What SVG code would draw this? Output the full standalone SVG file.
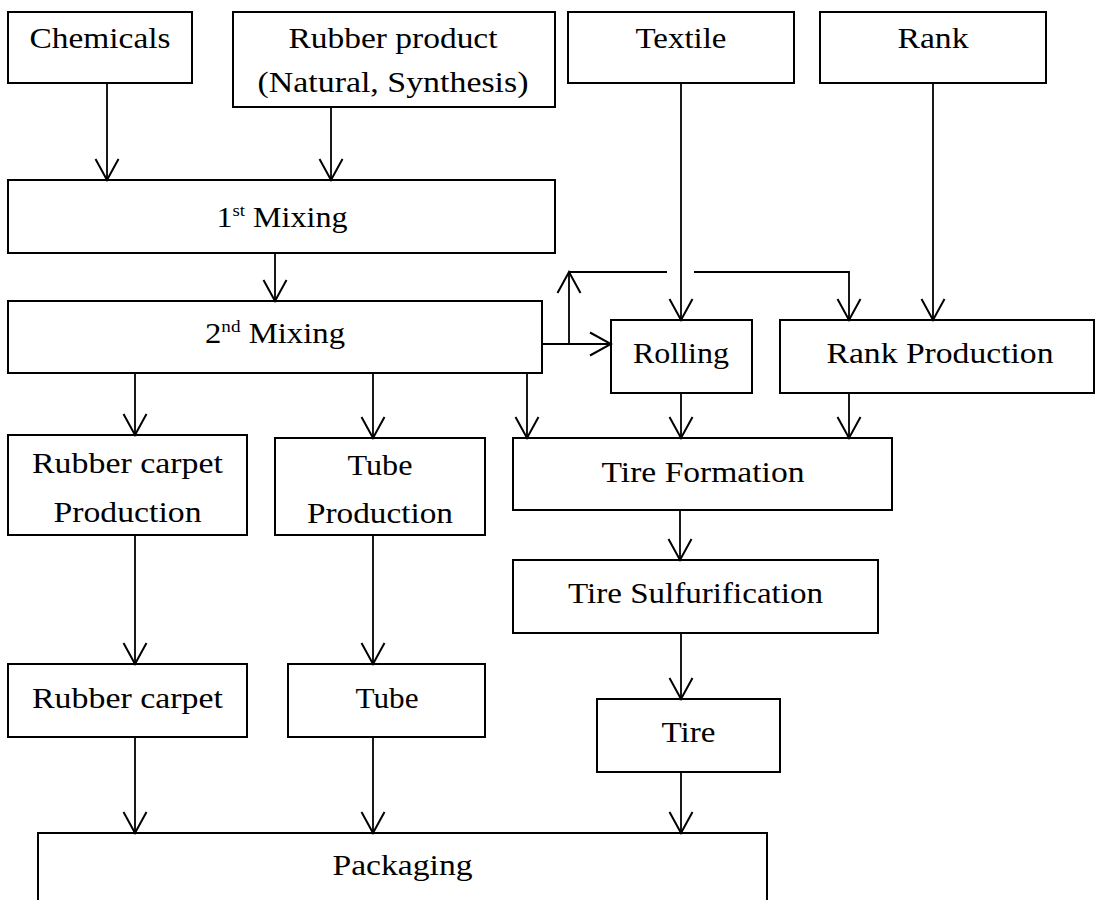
<svg xmlns="http://www.w3.org/2000/svg" width="1096" height="900" viewBox="0 0 1096 900">
  <style>
    .box { fill: #ffffff; stroke: #000000; stroke-width: 2; }
    .lbl { font-family: "Liberation Serif", "Times New Roman", serif; font-size: 29px; fill: #000000; text-anchor: middle; }
    .sup { font-size: 17px; }
    .wire { fill: none; stroke: #000000; stroke-width: 1.8; }
  </style>
  <defs>
    <marker id="vhead" viewBox="0 0 24 26" refX="22" refY="13" markerWidth="24" markerHeight="26" markerUnits="userSpaceOnUse" orient="auto">
      <path d="M1,1.5 L22,13 L1,24.5" fill="none" stroke="#000000" stroke-width="2"/>
    </marker>
  </defs>
  <rect width="1096" height="900" fill="#ffffff"/>

  <!-- raw materials -->
  <g id="chemicals">
    <rect class="box" x="8" y="12" width="184" height="71"/>
    <text class="lbl" x="100" y="48" textLength="141" lengthAdjust="spacingAndGlyphs">Chemicals</text>
  </g>
  <g id="rubber-product">
    <rect class="box" x="233" y="12" width="322" height="95"/>
    <text class="lbl" x="393" y="48" textLength="209" lengthAdjust="spacingAndGlyphs">Rubber product</text>
    <text class="lbl" x="393" y="92" textLength="271" lengthAdjust="spacingAndGlyphs">(Natural, Synthesis)</text>
  </g>
  <g id="textile">
    <rect class="box" x="568" y="12" width="226" height="71"/>
    <text class="lbl" x="681" y="48" textLength="91" lengthAdjust="spacingAndGlyphs">Textile</text>
  </g>
  <g id="rank">
    <rect class="box" x="820" y="12" width="226" height="71"/>
    <text class="lbl" x="933" y="48" textLength="71" lengthAdjust="spacingAndGlyphs">Rank</text>
  </g>

  <!-- mixing stages -->
  <g id="mixing-1">
    <rect class="box" x="8" y="180" width="547" height="73"/>
    <text class="lbl" x="282" y="227" textLength="131" lengthAdjust="spacingAndGlyphs">1<tspan class="sup" dy="-11">st</tspan><tspan dy="11"> Mixing</tspan></text>
  </g>
  <g id="mixing-2">
    <rect class="box" x="8" y="301" width="534" height="72"/>
    <text class="lbl" x="275" y="343" textLength="140" lengthAdjust="spacingAndGlyphs">2<tspan class="sup" dy="-11">nd</tspan><tspan dy="11"> Mixing</tspan></text>
  </g>

  <!-- component production -->
  <g id="rolling">
    <rect class="box" x="611" y="320" width="141" height="73"/>
    <text class="lbl" x="681" y="363" textLength="96" lengthAdjust="spacingAndGlyphs">Rolling</text>
  </g>
  <g id="rank-production">
    <rect class="box" x="780" y="320" width="314" height="73"/>
    <text class="lbl" x="940" y="363" textLength="227" lengthAdjust="spacingAndGlyphs">Rank Production</text>
  </g>
  <g id="carpet-production">
    <rect class="box" x="8" y="435" width="239" height="100"/>
    <text class="lbl" x="127.5" y="473" textLength="191" lengthAdjust="spacingAndGlyphs">Rubber carpet</text>
    <text class="lbl" x="127.5" y="522" textLength="148" lengthAdjust="spacingAndGlyphs">Production</text>
  </g>
  <g id="tube-production">
    <rect class="box" x="275" y="438" width="210" height="97"/>
    <text class="lbl" x="380" y="475" textLength="65" lengthAdjust="spacingAndGlyphs">Tube</text>
    <text class="lbl" x="380" y="523" textLength="146" lengthAdjust="spacingAndGlyphs">Production</text>
  </g>
  <g id="tire-formation">
    <rect class="box" x="513" y="438" width="379" height="72"/>
    <text class="lbl" x="703" y="482" textLength="203" lengthAdjust="spacingAndGlyphs">Tire Formation</text>
  </g>
  <g id="tire-sulfurification">
    <rect class="box" x="513" y="560" width="365" height="73"/>
    <text class="lbl" x="695.5" y="603" textLength="255" lengthAdjust="spacingAndGlyphs">Tire Sulfurification</text>
  </g>

  <!-- finished goods -->
  <g id="rubber-carpet">
    <rect class="box" x="8" y="664" width="239" height="73"/>
    <text class="lbl" x="127.5" y="708" textLength="191" lengthAdjust="spacingAndGlyphs">Rubber carpet</text>
  </g>
  <g id="tube">
    <rect class="box" x="288" y="664" width="197" height="73"/>
    <text class="lbl" x="387" y="708" textLength="63" lengthAdjust="spacingAndGlyphs">Tube</text>
  </g>
  <g id="tire">
    <rect class="box" x="597" y="699" width="183" height="73"/>
    <text class="lbl" x="688.5" y="742" textLength="54" lengthAdjust="spacingAndGlyphs">Tire</text>
  </g>
  <g id="packaging">
    <path class="box" d="M38,912 V833 H767 V912"/>
    <text class="lbl" x="402.5" y="875" textLength="140" lengthAdjust="spacingAndGlyphs">Packaging</text>
  </g>

  <g id="connectors">
    <path class="wire" marker-end="url(#vhead)" d="M107,83 V180"/>
    <path class="wire" marker-end="url(#vhead)" d="M331,107 V180"/>
    <path class="wire" marker-end="url(#vhead)" d="M275,253 V301"/>
    <path class="wire" marker-end="url(#vhead)" d="M135,373 V435"/>
    <path class="wire" marker-end="url(#vhead)" d="M373,373 V438"/>
    <path class="wire" marker-end="url(#vhead)" d="M527,373 V438"/>
    <path class="wire" marker-end="url(#vhead)" d="M542,344 H611"/>
    <path class="wire" marker-end="url(#vhead)" d="M569,344 V272"/>
    <path class="wire" d="M569,272 H667"/>
    <path class="wire" marker-end="url(#vhead)" d="M694,272 H849 V320"/>
    <path class="wire" marker-end="url(#vhead)" d="M681,83 V320"/>
    <path class="wire" marker-end="url(#vhead)" d="M933,83 V320"/>
    <path class="wire" marker-end="url(#vhead)" d="M681,393 V438"/>
    <path class="wire" marker-end="url(#vhead)" d="M849,393 V438"/>
    <path class="wire" marker-end="url(#vhead)" d="M680,510 V560"/>
    <path class="wire" marker-end="url(#vhead)" d="M681,633 V699"/>
    <path class="wire" marker-end="url(#vhead)" d="M135,535 V664"/>
    <path class="wire" marker-end="url(#vhead)" d="M373,535 V664"/>
    <path class="wire" marker-end="url(#vhead)" d="M135,737 V833"/>
    <path class="wire" marker-end="url(#vhead)" d="M373,737 V833"/>
    <path class="wire" marker-end="url(#vhead)" d="M681,772 V833"/>
  </g>
</svg>
